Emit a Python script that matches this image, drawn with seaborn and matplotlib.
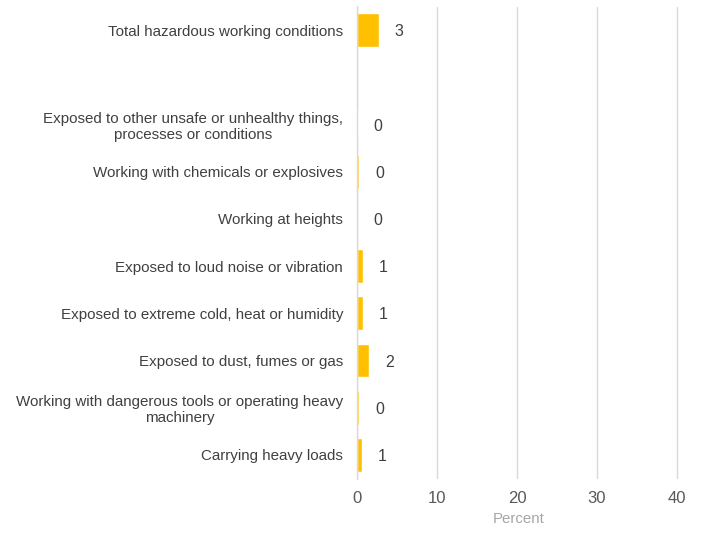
import matplotlib
matplotlib.use("Agg")
import matplotlib.pyplot as plt
import seaborn as sns
import pandas as pd

categories = [
    "Total hazardous working conditions",
    "Exposed to other unsafe or unhealthy things,\nprocesses or conditions",
    "Working with chemicals or explosives",
    "Working at heights",
    "Exposed to loud noise or vibration",
    "Exposed to extreme cold, heat or humidity",
    "Exposed to dust, fumes or gas",
    "Working with dangerous tools or operating heavy\nmachinery",
    "Carrying heavy loads",
]
values = [2.7, 0.1, 0.3, 0.0, 0.7, 0.7, 1.5, 0.3, 0.6]
labels = ["3", "0", "0", "0", "1", "1", "2", "0", "1"]
xticks = [0, 10, 20, 30, 40]

order = [categories[0], " "] + categories[1:]

df = pd.DataFrame({"cat": categories, "val": values, "lab": labels})

sns.set_style("white")
plt.rcParams["font.family"] = ["Liberation Sans", "DejaVu Sans"]

xmax = 40.3
fig = plt.figure(figsize=(7.04, 5.33), dpi=100)
ax = fig.add_axes([357 / 704, 1 - 478.5 / 533, (320 * xmax / 40) / 704, (478.5 - 6.5) / 533])

sns.barplot(data=df, y="cat", x="val", order=order, orient="h",
            color="#FFC000", saturation=1, width=0.72, ax=ax)

ax.set_xlim(0, xmax)
ax.set_xticks(xticks)
ax.xaxis.grid(True, color="#d9d9d9", linewidth=1)
ax.set_axisbelow(True)
for s in ["top", "right", "bottom"]:
    ax.spines[s].set_visible(False)
ax.spines["left"].set_color("#d9d9d9")
ax.spines["left"].set_linewidth(1)
ax.tick_params(axis="both", length=0, colors="#595959")
ax.tick_params(axis="y", pad=10, labelsize=10.9, labelcolor="#404040")
ax.tick_params(axis="x", pad=9, labelsize=12)
for t in ax.get_yticklabels():
    t.set_multialignment("center")
ax.set_ylabel("")
ax.set_xlabel("Percent", color="#a6a6a6", fontsize=10.8, labelpad=4)

for cat, v, lab in zip(categories, values, labels):
    y = order.index(cat)
    ax.annotate(lab, xy=(v, y), xytext=(11.5, -1.2), textcoords="offset points",
                ha="left", va="center", fontsize=11.5, color="#404040")

fig.savefig("out.png", dpi=100)
